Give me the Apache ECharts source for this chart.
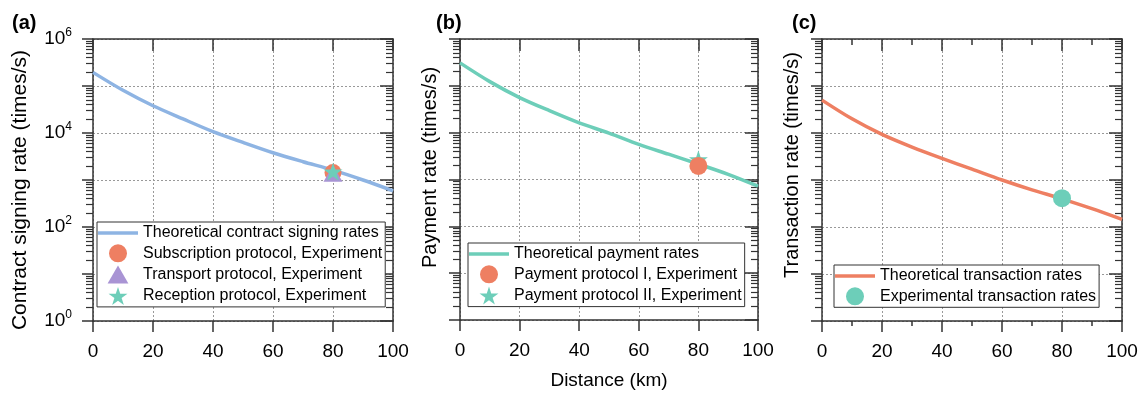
<!DOCTYPE html>
<html>
<head>
<meta charset="utf-8">
<script src="https://cdn.jsdelivr.net/npm/echarts@6/dist/echarts.min.js"></script>
<style>
html,body{margin:0;padding:0;background:#fff;}
#chart{width:1145px;height:395px;}
</style>
</head>
<body>
<div id="chart"></div>
<script>
// ---- data ----
const distance = [0, 10, 20, 30, 40, 50, 60, 70, 80, 90, 100];
const contractTheory = [195000, 81000, 38000, 19950, 10700, 6300, 3800, 2450, 1620, 1000, 590];
const paymentTheory = [309000, 123000, 56200, 29500, 16200, 9800, 5600, 3470, 2140, 1290, 720];
const transactionTheory = [50100, 20000, 9330, 5010, 2880, 1700, 1000, 617, 398, 245, 145];
const expDistance = [80];
const subscriptionExp = [1450];
const transportExp = [1380];
const receptionExp = [1500];
const paymentIExp = [1950];
const paymentIIExp = [2700];
const transactionExp = [410];
const yDecades = [1, 10, 100, 1000, 10000, 100000, 1000000];
const yLabelValues = [1, 100, 10000, 1000000];
const yMinorMultipliers = [2, 3, 4, 5, 6, 7, 8, 9];
const panelLetters = ['(a)', '(b)', '(c)'];
const yNames = ['Contract signing rate (times/s)', 'Payment rate (times/s)', 'Transaction rate (times/s)'];
const xName = 'Distance (km)';

const FONT = 'Liberation Sans, Arial, Helvetica, sans-serif';
const AX = '#333';
const BLUE = '#8EB4E3', TEAL = '#6DCEB9', ORANGE = '#EE7F62', PURPLE = '#A994D4';
const STAR = 'path://M50,0 L61.8,36.2 L100,36.2 L69.1,58.8 L80.9,95.1 L50,72.7 L19.1,95.1 L30.9,58.8 L0,36.2 L38.2,36.2 Z';
const TRI = 'path://M50,0 L100,86.6 L0,86.6 Z';
const LINEICON = 'path://M0,0 L40,0 L40,3.5 L0,3.5 Z';

const yMinor = [];
yDecades.slice(0, -1).forEach(d => yMinorMultipliers.forEach(m => yMinor.push(d * m)));

const grids = [
  {left: 93, top: 39, width: 300, height: 282},
  {left: 460, top: 39, width: 298, height: 282},
  {left: 822, top: 39, width: 300, height: 282}
];
const yNameGaps = [62, 20, 20];
const yNameSizes = [21, 20, 20];
const yNamePad = [[0, 20, 0, 0], [0, 0, 0, 24], [0, 0, 0, 30]];

const xAxes = [], yAxes = [];
const gridLine = {show: true, lineStyle: {color: '#999', width: 1, type: [2, 2]}};
grids.forEach((g, i) => {
  const minor = i === 2;
  xAxes.push({
    gridIndex: i, type: 'value', min: 0, max: 100, interval: 20, position: 'bottom',
    axisLine: {show: true, lineStyle: {color: AX, width: 1.5}},
    axisTick: {show: true, inside: false, length: 11, lineStyle: {color: AX, width: 1.5}},
    minorTick: {show: minor, splitNumber: 2, length: 5, lineStyle: {color: AX, width: 1.5}},
    axisLabel: {show: true, margin: 21, fontSize: 19, color: '#000', fontFamily: FONT},
    splitLine: gridLine,
    name: i === 1 ? xName : '', nameLocation: 'middle', nameGap: 51,
    nameTextStyle: {fontSize: 19, color: '#000', fontFamily: FONT}
  });
  xAxes.push({
    gridIndex: i, type: 'value', min: 0, max: 100, interval: 20, position: 'top',
    axisLine: {show: true, lineStyle: {color: AX, width: 1.5}},
    axisTick: {show: true, inside: true, length: 12, lineStyle: {color: AX, width: 1.5}},
    minorTick: {show: minor, splitNumber: 2, length: 6, lineStyle: {color: AX, width: 1.5}},
    axisLabel: {show: false}, splitLine: {show: false}
  });
  const base = {gridIndex: i, type: 'log', logBase: 10, min: 1, max: 1000000, splitNumber: 6};
  yAxes.push(Object.assign({}, base, {
    position: 'left',
    axisLine: {show: true, lineStyle: {color: AX, width: 1.5}},
    axisTick: {show: true, inside: false, length: 11, customValues: yDecades, lineStyle: {color: AX, width: 1.5}},
    axisLabel: {
      show: i === 0, margin: 21, customValues: yLabelValues, color: '#000', fontFamily: FONT,
      formatter: v => '{b|10}{s|' + Math.round(Math.log10(v)) + '}',
      rich: {
        b: {fontSize: 19, fontFamily: FONT, color: '#000'},
        s: {fontSize: 12, fontFamily: FONT, color: '#000', padding: [0, 0, 12, 0]}
      }
    },
    splitLine: gridLine,
    name: yNames[i], nameLocation: 'middle', nameGap: yNameGaps[i], nameRotate: 90,
    nameTextStyle: {fontSize: yNameSizes[i], color: '#000', fontFamily: FONT, padding: yNamePad[i]}
  }));
  yAxes.push(Object.assign({}, base, {
    position: 'left',
    axisLine: {show: false},
    axisTick: {show: true, inside: false, length: 7, customValues: yMinor, lineStyle: {color: AX, width: 1.2}},
    axisLabel: {show: false}, splitLine: {show: false}
  }));
  yAxes.push(Object.assign({}, base, {
    position: 'right',
    axisLine: {show: true, lineStyle: {color: AX, width: 1.5}},
    axisTick: {show: true, inside: true, length: 13, customValues: yDecades, lineStyle: {color: AX, width: 1.5}},
    axisLabel: {show: false}, splitLine: {show: false}
  }));
  yAxes.push(Object.assign({}, base, {
    position: 'right',
    axisLine: {show: false},
    axisTick: {show: true, inside: true, length: 7, customValues: yMinor, lineStyle: {color: AX, width: 1.2}},
    axisLabel: {show: false}, splitLine: {show: false}
  }));
});

function pairs(xs, ys) { return ys.map((y, k) => [xs[k], y]); }

const series = [
  {name: 'Theoretical contract signing rates', type: 'line', xAxisIndex: 0, yAxisIndex: 0,
   data: pairs(distance, contractTheory), smooth: 0.3, symbol: 'none', lineStyle: {color: BLUE, width: 3.5}, itemStyle: {color: BLUE}, z: 2},
  {name: 'Subscription protocol, Experiment', type: 'scatter', xAxisIndex: 0, yAxisIndex: 0,
   data: pairs(expDistance, subscriptionExp), symbol: 'circle', symbolSize: 17, itemStyle: {color: ORANGE, opacity: 1}, z: 3},
  {name: 'Transport protocol, Experiment', type: 'scatter', xAxisIndex: 0, yAxisIndex: 0,
   data: pairs(expDistance, transportExp), symbol: TRI, symbolKeepAspect: true, symbolSize: 19, itemStyle: {color: PURPLE, opacity: 1}, z: 4},
  {name: 'Reception protocol, Experiment', type: 'scatter', xAxisIndex: 0, yAxisIndex: 0,
   data: pairs(expDistance, receptionExp), symbol: STAR, symbolKeepAspect: true, symbolSize: 19, itemStyle: {color: TEAL, opacity: 1}, z: 5},

  {name: 'Theoretical payment rates', type: 'line', xAxisIndex: 2, yAxisIndex: 4,
   data: pairs(distance, paymentTheory), smooth: 0.3, symbol: 'none', lineStyle: {color: TEAL, width: 3.5}, itemStyle: {color: TEAL}, z: 2},
  {name: 'Payment protocol II, Experiment', type: 'scatter', xAxisIndex: 2, yAxisIndex: 4,
   data: pairs(expDistance, paymentIIExp), symbol: STAR, symbolKeepAspect: true, symbolSize: 19, itemStyle: {color: TEAL, opacity: 1}, z: 3},
  {name: 'Payment protocol I, Experiment', type: 'scatter', xAxisIndex: 2, yAxisIndex: 4,
   data: pairs(expDistance, paymentIExp), symbol: 'circle', symbolSize: 18, itemStyle: {color: ORANGE, opacity: 1}, z: 4},

  {name: 'Theoretical transaction rates', type: 'line', xAxisIndex: 4, yAxisIndex: 8,
   data: pairs(distance, transactionTheory), smooth: 0.3, symbol: 'none', lineStyle: {color: ORANGE, width: 3.5}, itemStyle: {color: ORANGE}, z: 2},
  {name: 'Experimental transaction rates', type: 'scatter', xAxisIndex: 4, yAxisIndex: 8,
   data: pairs(expDistance, transactionExp), symbol: 'circle', symbolSize: 18, itemStyle: {color: TEAL, opacity: 1}, z: 3}
];

const legendBase = {
  orient: 'vertical', itemWidth: 40, itemHeight: 18, itemGap: 3.3,
  padding: [3, 3, 2, 1], borderColor: AX, borderWidth: 1, backgroundColor: '#fff',
  textStyle: {fontSize: 16, color: '#000', fontFamily: FONT}, selectedMode: false, z: 10
};
function lineItem(n) { return {name: n, icon: LINEICON}; }
const legends = [
  Object.assign({}, legendBase, {left: 97, top: 222, data: [
    lineItem('Theoretical contract signing rates'),
    {name: 'Subscription protocol, Experiment', icon: 'circle'},
    {name: 'Transport protocol, Experiment', icon: TRI},
    {name: 'Reception protocol, Experiment', icon: STAR}]}),
  Object.assign({}, legendBase, {left: 468, top: 243, data: [
    lineItem('Theoretical payment rates'),
    {name: 'Payment protocol I, Experiment', icon: 'circle'},
    {name: 'Payment protocol II, Experiment', icon: STAR}]}),
  Object.assign({}, legendBase, {left: 834, top: 265, data: [
    lineItem('Theoretical transaction rates'),
    {name: 'Experimental transaction rates', icon: 'circle'}]})
];

const titles = panelLetters.map((t, i) => ({
  text: t, left: [7, 431, 787][i], top: 8,
  textStyle: {fontSize: 20, fontWeight: 'bold', color: '#000', fontFamily: FONT}
}));

const chart = echarts.init(document.getElementById('chart'), null, {renderer: 'canvas'});
chart.setOption({
  animation: false,
  backgroundColor: '#fff',
  title: titles,
  grid: grids,
  xAxis: xAxes,
  yAxis: yAxes,
  legend: legends,
  series: series
});
</script>
</body>
</html>
